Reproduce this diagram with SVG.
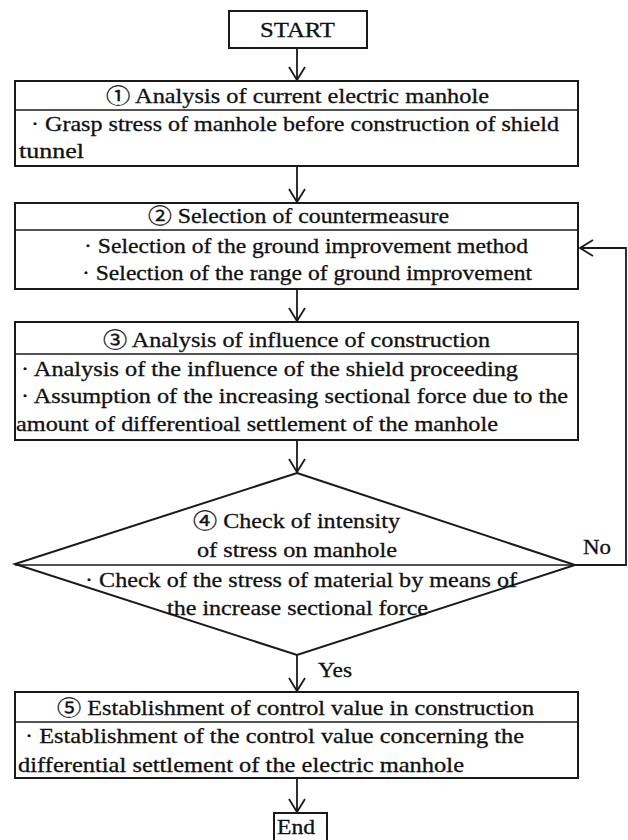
<svg xmlns="http://www.w3.org/2000/svg" width="628" height="840" viewBox="0 0 628 840">
<style>
.box{fill:#fff;stroke:#1a1a1a;stroke-width:2}
.div{stroke:#1a1a1a;stroke-width:1.6}
.con{fill:none;stroke:#1a1a1a;stroke-width:1.8}
text{font-family:"Liberation Serif","Times New Roman","Noto Sans CJK JP",serif;font-size:21px;fill:#111;stroke:#111;stroke-width:0.3}
</style>
<defs>
<marker id="arr" viewBox="-15 -10 17 20" refX="0" refY="0" markerWidth="17" markerHeight="20" markerUnits="userSpaceOnUse" orient="auto">
<path d="M-13,-8 L0,0 L-13,8" fill="none" stroke="#1a1a1a" stroke-width="1.8"/>
</marker>
</defs>
<rect width="628" height="840" fill="#fff"/>
<g id="connectors">
<line class="con" x1="297" y1="48" x2="297" y2="80" marker-end="url(#arr)"/>
<line class="con" x1="297" y1="166" x2="297" y2="202" marker-end="url(#arr)"/>
<line class="con" x1="297" y1="289" x2="297" y2="321" marker-end="url(#arr)"/>
<line class="con" x1="297" y1="440" x2="297" y2="472" marker-end="url(#arr)"/>
<line class="con" x1="297" y1="655" x2="297" y2="691" marker-end="url(#arr)"/>
<line class="con" x1="297" y1="778" x2="297" y2="812" marker-end="url(#arr)"/>
<polyline class="con" points="575,565 626,565 626,248 580,248" marker-end="url(#arr)"/>
<text x="583" y="554" textLength="28" lengthAdjust="spacingAndGlyphs">No</text>
<text x="318" y="677" textLength="34" lengthAdjust="spacingAndGlyphs">Yes</text>
</g>
<g id="start">
<rect class="box" x="229" y="11" width="138" height="37"/>
<text x="260" y="37" style="font-size:22px" textLength="75" lengthAdjust="spacingAndGlyphs">START</text>
</g>
<g id="step1">
<rect class="box" x="15" y="81" width="563" height="85"/>
<line class="div" x1="15" y1="110" x2="578" y2="110"/>
<text x="106" y="103" textLength="383" lengthAdjust="spacingAndGlyphs">① Analysis of current electric manhole</text>
<text x="31" y="131" textLength="528" lengthAdjust="spacingAndGlyphs">· Grasp stress of manhole before construction of shield</text>
<text x="19" y="158" textLength="65" lengthAdjust="spacingAndGlyphs">tunnel</text>
</g>
<g id="step2">
<rect class="box" x="15" y="203" width="563" height="86"/>
<line class="div" x1="15" y1="230" x2="578" y2="230"/>
<text x="148" y="223" textLength="301" lengthAdjust="spacingAndGlyphs">② Selection of countermeasure</text>
<text x="84" y="253" textLength="444" lengthAdjust="spacingAndGlyphs">· Selection of the ground improvement method</text>
<text x="82" y="280" textLength="450" lengthAdjust="spacingAndGlyphs">· Selection of the range of ground improvement</text>
</g>
<g id="step3">
<rect class="box" x="15" y="322" width="563" height="118"/>
<line class="div" x1="15" y1="354" x2="578" y2="354"/>
<text x="103" y="347" textLength="387" lengthAdjust="spacingAndGlyphs">③ Analysis of influence of construction</text>
<text x="21" y="376" textLength="497" lengthAdjust="spacingAndGlyphs">· Analysis of the influence of the shield proceeding</text>
<text x="21" y="403" textLength="547" lengthAdjust="spacingAndGlyphs">· Assumption of the increasing sectional force due to the</text>
<text x="16" y="431" textLength="482" lengthAdjust="spacingAndGlyphs">amount of differentioal settlement of the manhole</text>
</g>
<g id="step4">
<polygon class="box" points="297,473 575,565 297,655 15,564"/>
<line class="div" x1="15" y1="565" x2="575" y2="565"/>
<text x="193" y="528" textLength="207" lengthAdjust="spacingAndGlyphs">④ Check of intensity</text>
<text x="197" y="557" textLength="200" lengthAdjust="spacingAndGlyphs">of stress on manhole</text>
<text x="85" y="587" textLength="432" lengthAdjust="spacingAndGlyphs">· Check of the stress of material by means of</text>
<text x="167" y="615" textLength="261" lengthAdjust="spacingAndGlyphs">the increase sectional force</text>
</g>
<g id="step5">
<rect class="box" x="15" y="692" width="563" height="86"/>
<line class="div" x1="15" y1="722" x2="578" y2="722"/>
<text x="57" y="715" textLength="477" lengthAdjust="spacingAndGlyphs">⑤ Establishment of control value in construction</text>
<text x="25" y="743" textLength="499" lengthAdjust="spacingAndGlyphs">· Establishment of the control value concerning the</text>
<text x="18" y="772" textLength="446" lengthAdjust="spacingAndGlyphs">differential settlement of the electric manhole</text>
</g>
<g id="end">
<rect class="box" x="274" y="813" width="53" height="34"/>
<text x="277" y="834" style="font-size:20px" textLength="38" lengthAdjust="spacingAndGlyphs">End</text>
</g>
</svg>
